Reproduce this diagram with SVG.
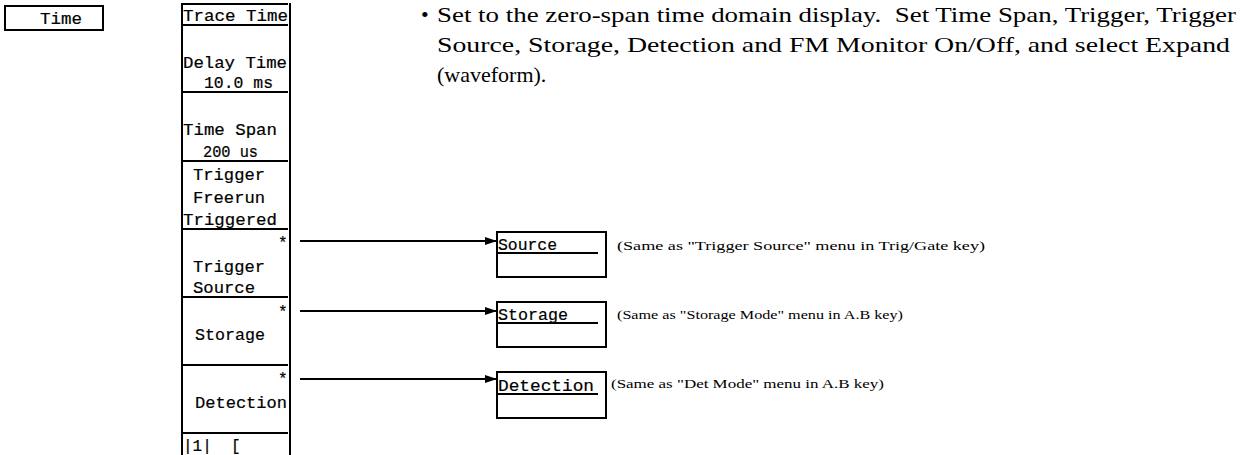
<svg xmlns="http://www.w3.org/2000/svg" width="1241" height="455" viewBox="0 0 1241 455">
<defs>
<style>
.mono{font-family:"Liberation Mono","Courier New",monospace;font-size:16px;fill:#000;stroke:#000;stroke-width:0.2}
.serif{font-family:"Liberation Serif","Times New Roman",serif;fill:#000}
.big{font-size:22px}
.note{font-size:12.5px}
.ln{stroke:#000;stroke-width:2;fill:none}
.box{stroke:#000;stroke-width:2;fill:#fff}
.conn{stroke:#000;stroke-width:2;fill:none;marker-end:url(#ah)}
</style>
<marker id="ah" markerWidth="12" markerHeight="8" refX="11" refY="4" orient="auto" markerUnits="userSpaceOnUse">
<path d="M0,0 L12,4 L0,8 Z" fill="#000"/>
</marker>
</defs>
<rect width="1241" height="455" fill="#fff"/>

<g id="time-key">
<rect class="box" x="5" y="6" width="98" height="24"/>
<text class="mono" x="40" y="24" textLength="42" lengthAdjust="spacingAndGlyphs">Time</text>
</g>

<g id="menu">
<line class="ln" x1="182" y1="3" x2="182" y2="455"/>
<line class="ln" x1="290" y1="3" x2="290" y2="455"/>
<line class="ln" x1="182" y1="4" x2="288" y2="4"/>
<text class="mono" x="183" y="21" textLength="105" lengthAdjust="spacingAndGlyphs">Trace Time</text>
<line class="ln" x1="182" y1="25" x2="288" y2="25"/>
<text class="mono" x="183" y="68" textLength="104" lengthAdjust="spacingAndGlyphs">Delay Time</text>
<text class="mono" x="204" y="88" textLength="69" lengthAdjust="spacingAndGlyphs">10.0 ms</text>
<line class="ln" x1="182" y1="92" x2="288" y2="92"/>
<text class="mono" x="183" y="135" textLength="94" lengthAdjust="spacingAndGlyphs">Time Span</text>
<text class="mono" x="203" y="157" textLength="55" lengthAdjust="spacingAndGlyphs">200 us</text>
<line class="ln" x1="182" y1="161" x2="288" y2="161"/>
<text class="mono" x="193" y="180" textLength="72" lengthAdjust="spacingAndGlyphs">Trigger</text>
<text class="mono" x="193" y="203" textLength="72" lengthAdjust="spacingAndGlyphs">Freerun</text>
<text class="mono" x="183" y="225" textLength="94" lengthAdjust="spacingAndGlyphs">Triggered</text>
<line class="ln" x1="182" y1="229" x2="288" y2="229"/>
<text class="mono" x="278" y="248">*</text>
<text class="mono" x="193" y="272" textLength="72" lengthAdjust="spacingAndGlyphs">Trigger</text>
<text class="mono" x="193" y="293" textLength="62" lengthAdjust="spacingAndGlyphs">Source</text>
<line class="ln" x1="182" y1="297" x2="288" y2="297"/>
<text class="mono" x="278" y="317">*</text>
<text class="mono" x="195" y="340" textLength="70" lengthAdjust="spacingAndGlyphs">Storage</text>
<line class="ln" x1="182" y1="365" x2="288" y2="365"/>
<text class="mono" x="278" y="384">*</text>
<text class="mono" x="195" y="408" textLength="92" lengthAdjust="spacingAndGlyphs">Detection</text>
<line class="ln" x1="182" y1="433" x2="288" y2="433"/>
<text class="mono" x="183" y="451" xml:space="preserve">|1|  [</text>
</g>

<g id="description">
<text class="serif big" x="421" y="22">•</text>
<text class="serif big" x="437" y="22" textLength="799" lengthAdjust="spacingAndGlyphs" xml:space="preserve">Set to the zero-span time domain display.  Set Time Span, Trigger, Trigger</text>
<text class="serif big" x="437" y="52" textLength="793" lengthAdjust="spacingAndGlyphs">Source, Storage, Detection and FM Monitor On/Off, and select Expand</text>
<text class="serif big" x="437" y="82">(waveform).</text>
</g>

<g id="connectors">
<line class="conn" x1="300" y1="241" x2="496" y2="241"/>
<line class="conn" x1="300" y1="311" x2="496" y2="311"/>
<line class="conn" x1="300" y1="379" x2="496" y2="379"/>
</g>

<g id="source-menu">
<rect class="box" x="497" y="232" width="109" height="45"/>
<text class="mono" x="498" y="250" textLength="59" lengthAdjust="spacingAndGlyphs">Source</text>
<line class="ln" x1="497" y1="253" x2="598" y2="253"/>
<text class="serif note" x="617" y="250" textLength="368" lengthAdjust="spacingAndGlyphs">(Same as "Trigger Source" menu in Trig/Gate key)</text>
</g>

<g id="storage-menu">
<rect class="box" x="497" y="302" width="109" height="45"/>
<text class="mono" x="498" y="320" textLength="70" lengthAdjust="spacingAndGlyphs">Storage</text>
<line class="ln" x1="497" y1="323" x2="598" y2="323"/>
<text class="serif note" x="617" y="319" textLength="286" lengthAdjust="spacingAndGlyphs">(Same as "Storage Mode" menu in A.B key)</text>
</g>

<g id="detection-menu">
<rect class="box" x="497" y="372" width="109" height="46"/>
<text class="mono" x="498" y="391" textLength="96" lengthAdjust="spacingAndGlyphs">Detection</text>
<line class="ln" x1="497" y1="394" x2="598" y2="394"/>
<text class="serif note" x="611" y="388" textLength="273" lengthAdjust="spacingAndGlyphs">(Same as "Det Mode" menu in A.B key)</text>
</g>
</svg>
